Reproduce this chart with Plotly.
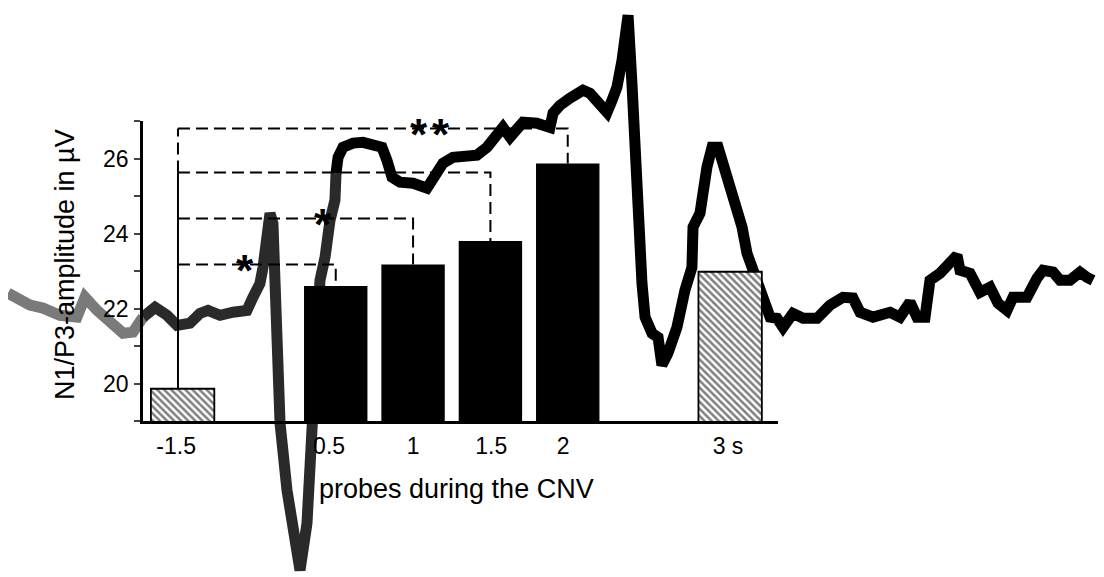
import plotly.graph_objects as go

# ---------------- data ----------------
# bar chart: N1/P3 amplitude (µV) for probes at different times
bar_x = [-0.49, 0.5, 1.0, 1.5, 2.0, 3.05]          # plotting positions (s, broken axis)
bar_vals = [19.86, 22.6, 23.17, 23.8, 25.87, 22.98]
bar_hatched = [True, False, False, False, False, True]
tick_pos = [-0.532, 0.457, 1.0, 1.505, 1.971, 3.036]
tick_labels = ["-1.5", "0.5", "1", "1.5", "2", "3 s"]

# significance brackets: level (µV) and target bar index
bracket_levels = [23.17, 24.4, 25.63, 26.8]
bracket_targets = [1, 2, 3, 4]
bracket_x0 = -0.52
star_x = [-0.087, 0.418, 1.038, 1.181]
star_y = [23.17, 24.4, 26.8, 26.8]

# background ERP (CNV) waveform: time (s) and amplitude (µV)
wave_t = [-1.619, -1.477, -1.393, -1.283, -1.173, -1.121, -1.043, -0.959, -0.875, -0.811,
          -0.746, -0.668, -0.591, -0.526, -0.442, -0.378, -0.326, -0.248, -0.164, -0.074,
          -0.035, 0.010, 0.030, 0.056, 0.075, 0.094, 0.107, 0.120, 0.140, 0.185,
          0.237, 0.269, 0.314, 0.334, 0.347, 0.366, 0.385, 0.398, 0.431, 0.450,
          0.463, 0.495, 0.502, 0.515, 0.547, 0.612, 0.676, 0.741, 0.799, 0.831,
          0.864, 0.915, 1.000, 1.090, 1.129, 1.193, 1.258, 1.413, 1.478, 1.543,
          1.581, 1.627, 1.672, 1.711, 1.801, 1.885, 1.905, 1.950, 2.015, 2.099,
          2.144, 2.189, 2.228, 2.254, 2.286, 2.318, 2.351, 2.370, 2.390, 2.415,
          2.435, 2.454, 2.480, 2.500, 2.545, 2.584, 2.609, 2.648, 2.706, 2.758,
          2.803, 2.810, 2.855, 2.900, 2.933, 2.972, 3.004, 3.068, 3.127, 3.159,
          3.198, 3.262, 3.308, 3.353, 3.392, 3.456, 3.521, 3.612, 3.696, 3.780,
          3.844, 3.890, 3.974, 4.084, 4.148, 4.213, 4.258, 4.310, 4.342, 4.407,
          4.471, 4.517, 4.536, 4.601, 4.665, 4.730, 4.782, 4.840, 4.879, 4.969,
          5.034, 5.073, 5.138, 5.183, 5.247, 5.312, 5.357, 5.396]
wave_v = [22.41, 22.09, 22.01, 21.82, 21.77, 22.30, 21.95, 21.61, 21.34, 21.37,
          21.77, 22.03, 21.82, 21.55, 21.61, 21.87, 21.95, 21.82, 21.90, 21.95,
          22.30, 22.67, 23.10, 23.82, 24.54, 24.27, 22.49, 20.70, 18.94, 17.15,
          15.82, 15.02, 16.27, 18.03, 18.94, 20.70, 22.22, 22.75, 23.37, 24.01,
          24.35, 24.89, 25.61, 26.03, 26.30, 26.41, 26.43, 26.35, 26.30, 25.95,
          25.50, 25.37, 25.34, 25.21, 25.42, 25.87, 26.03, 26.09, 26.30, 26.70,
          26.83, 26.57, 26.75, 26.97, 26.94, 26.83, 27.21, 27.42, 27.61, 27.82,
          27.74, 27.55, 27.29, 27.23, 27.55, 27.90, 28.62, 29.34, 29.82, 28.01,
          25.77, 24.01, 22.67, 21.77, 21.34, 21.23, 20.49, 20.81, 21.50, 22.49,
          23.10, 24.17, 24.54, 25.77, 26.30, 26.30, 25.87, 24.97, 24.17, 23.47,
          23.02, 22.22, 21.77, 21.74, 21.50, 21.87, 21.74, 21.74, 22.09, 22.30,
          22.28, 21.90, 21.77, 21.90, 21.77, 22.17, 21.77, 21.77, 22.75, 22.94,
          23.29, 23.42, 23.02, 22.94, 22.43, 22.57, 22.14, 21.95, 22.30, 22.30,
          22.81, 23.02, 22.97, 22.75, 22.75, 22.97, 22.83, 22.75]
wave_segments = [(0, 11, "#7a7a7a"), (10, 43, "#2a2a2a"), (42, len(wave_t), "black")]

# ---------------- figure ----------------
SCREEN_W, SCREEN_H = 1104, 577
OFF = 8                       # default page body margin
W, H = SCREEN_W - OFF, SCREEN_H - OFF
FONT = "Liberation Sans, Arial, Helvetica, sans-serif"

def fx(sx):                   # screen x -> paper fraction
    return (sx - OFF) / W
def fy(sy):                   # screen y -> paper fraction
    return 1 - (sy - OFF) / H

T0_PX, PX_PER_S = 258.4, 154.67
def tpx(px):
    return (px - T0_PX) / PX_PER_S
PX_PER_UV = 37.5
def vpy(py):
    return 19 + (421 - py) / PX_PER_UV

fig = go.Figure()

for a, b, col in wave_segments:
    fig.add_trace(go.Scatter(x=wave_t[a:b], y=wave_v[a:b], mode="lines",
                             line=dict(color=col, width=11), hoverinfo="skip",
                             xaxis="x", yaxis="y"))

hx = [x for x, h in zip(bar_x, bar_hatched) if h]
hv = [v for v, h in zip(bar_vals, bar_hatched) if h]
sx = [x for x, h in zip(bar_x, bar_hatched) if not h]
sv = [v for v, h in zip(bar_vals, bar_hatched) if not h]
fig.add_trace(go.Bar(x=sx, y=sv, width=0.41, marker=dict(color="black", line=dict(width=0)),
                     xaxis="x2", yaxis="y2"))
fig.add_trace(go.Bar(x=hx, y=hv, width=0.41,
                     marker=dict(color="white", line=dict(color="black", width=1.8),
                                 pattern=dict(shape="\\", fgcolor="black", bgcolor="white",
                                              size=5, solidity=0.5)),
                     xaxis="x2", yaxis="y2"))

# solid vertical line from the baseline bar
fig.add_trace(go.Scatter(x=[bracket_x0, bracket_x0], y=[bar_vals[0], bracket_levels[2]],
                         mode="lines", line=dict(color="black", width=2),
                         xaxis="x2", yaxis="y2", hoverinfo="skip"))
# dashed brackets
dx, dy = [], []
for lev, ti in zip(bracket_levels, bracket_targets):
    dx += [bracket_x0, bar_x[ti], bar_x[ti], None]
    dy += [lev, lev, bar_vals[ti], None]
dx += [bracket_x0, bracket_x0]
dy += [bracket_levels[2], bracket_levels[3]]
fig.add_trace(go.Scatter(x=dx, y=dy, mode="lines",
                         line=dict(color="black", width=2, dash="12px,6px"),
                         xaxis="x2", yaxis="y2", hoverinfo="skip"))

annotations = []
for x, y in zip(star_x, star_y):
    annotations.append(dict(x=x, y=y, xref="x2", yref="y2", text="<b>*</b>", showarrow=False,
                            xanchor="center", yanchor="middle",
                            font=dict(family=FONT, size=44, color="black"), yshift=-6))

annotations.append(dict(x=fx(65), y=fy(265), xref="paper", yref="paper",
                        xanchor="center", yanchor="middle",
                        text="N1/P3-amplitude in µV", textangle=-90, showarrow=False,
                        font=dict(family=FONT, size=27, color="black")))
annotations.append(dict(x=fx(456), y=fy(489), xref="paper", yref="paper",
                        xanchor="center", yanchor="middle",
                        text="probes during the CNV", showarrow=False,
                        font=dict(family=FONT, size=27, color="black")))

ax_left, ax_right, ax_top, ax_bottom = 143, 778, 121, 421

fig.update_layout(
    width=W, height=H, margin=dict(l=0, r=0, t=0, b=0),
    paper_bgcolor="white", plot_bgcolor="rgba(0,0,0,0)",
    showlegend=False, barmode="overlay",
    xaxis=dict(domain=[0, 1], range=[tpx(OFF), tpx(SCREEN_W)], visible=False, fixedrange=True),
    yaxis=dict(domain=[0, 1], range=[vpy(SCREEN_H), vpy(OFF)], visible=False, fixedrange=True),
    xaxis2=dict(domain=[fx(ax_left), fx(ax_right)], range=[tpx(ax_left), tpx(ax_right)],
                anchor="y2", showline=True, linecolor="black", linewidth=2.5,
                showgrid=False, zeroline=False, ticks="", tickvals=tick_pos, ticktext=tick_labels,
                tickfont=dict(family=FONT, size=23, color="black"), ticklabelstandoff=3),
    yaxis2=dict(domain=[fy(ax_bottom), fy(ax_top)], range=[19, 27],
                anchor="x2", showline=True, linecolor="black", linewidth=2.5,
                showgrid=False, zeroline=False, ticks="outside", ticklen=6, tickwidth=1.5,
                tickvals=list(range(19, 28)),
                ticktext=["", "20", "", "22", "", "24", "", "26", ""],
                tickfont=dict(family=FONT, size=23, color="black"), ticklabelstandoff=1),
    annotations=annotations,
)

fig.write_html("out.html")
